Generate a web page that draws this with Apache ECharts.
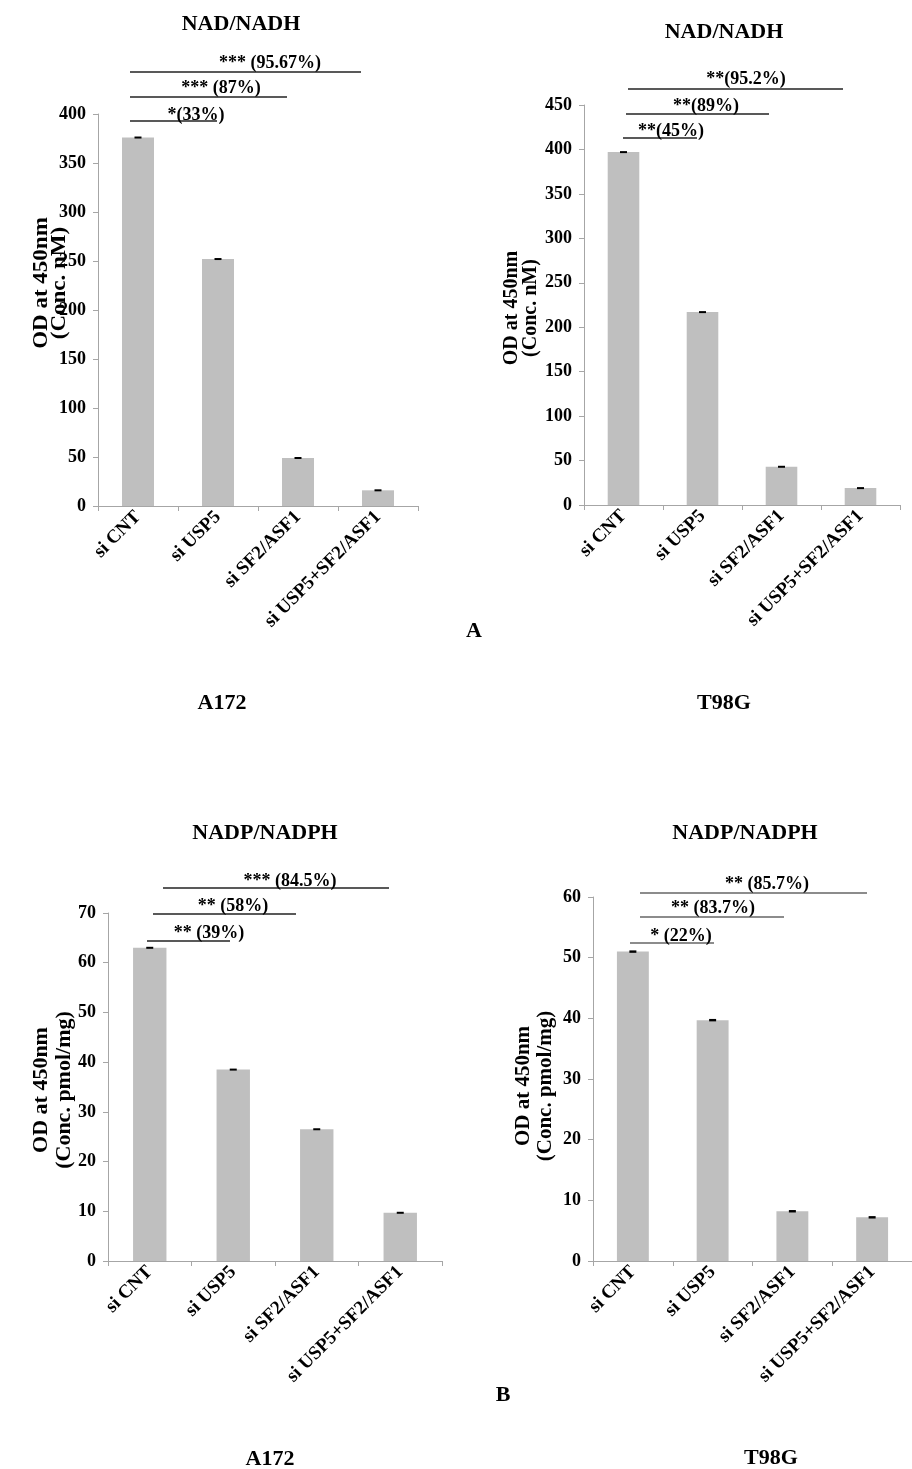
<!DOCTYPE html>
<html>
<head>
<meta charset="utf-8">
<script src="https://cdn.jsdelivr.net/npm/echarts@6/dist/echarts.min.js"></script>
<style>html,body{margin:0;padding:0;background:#fff}#c{width:912px;height:1469px}</style>
</head>
<body>
<div id="c"></div>
<script>
var categories = ['si CNT', 'si USP5', 'si SF2/ASF1', 'si USP5+SF2/ASF1'];
var nadA172 = [376, 252, 49, 16];
var nadA172Err = [1, 1, 1, 1];
var nadT98G = [397, 217, 43, 19];
var nadT98GErr = [1, 1, 1, 1];
var nadpA172 = [63, 38.5, 26.5, 9.7];
var nadpA172Err = [0.2, 0.2, 0.2, 0.2];
var nadpT98G = [51, 39.7, 8.2, 7.2];
var nadpT98GErr = [0.2, 0.2, 0.2, 0.2];
var yMax = [400, 450, 70, 60];
var yInterval = [50, 50, 10, 10];
var titles = ['NAD/NADH', 'NAD/NADH', 'NADP/NADPH', 'NADP/NADPH'];
var yNames = [['OD at 450nm', '(Conc. nM)'], ['OD at 450nm', '(Conc. nM)'], ['OD at 450nm', '(Conc. pmol/mg)'], ['OD at 450nm', '(Conc. pmol/mg)']];
var sigLabels = [
  ['*** (95.67%)', '*** (87%)', '*(33%)'],
  ['**(95.2%)', '**(89%)', '**(45%)'],
  ['*** (84.5%)', '** (58%)', '** (39%)'],
  ['** (85.7%)', '** (83.7%)', '* (22%)']
];
var panelLabels = ['A', 'B'];
var cellLines = ['A172', 'T98G', 'A172', 'T98G'];

var FONT = 'Liberation Serif';
var values = [nadA172, nadT98G, nadpA172, nadpT98G];
var errs = [nadA172Err, nadT98GErr, nadpA172Err, nadpT98GErr];

var grids = [
  {left: 98, top: 114, width: 320, height: 392},
  {left: 584, top: 105, width: 316, height: 400},
  {left: 108, top: 913, width: 334, height: 348},
  {left: 593, top: 897, width: 326, height: 364}
];

var axisColor = '#a6a6a6';
var option = {
  animation: false,
  backgroundColor: '#fff',
  grid: grids,
  xAxis: grids.map(function (g, i) {
    return {
      type: 'category', gridIndex: i, data: categories,
      axisLine: {lineStyle: {color: axisColor, width: 1}},
      axisTick: {show: true, length: 5, lineStyle: {color: axisColor}},
      axisLabel: {interval: 0, rotate: 45, margin: 8, color: '#000', fontFamily: FONT, fontWeight: 'bold', fontSize: 19}
    };
  }),
  yAxis: grids.map(function (g, i) {
    return {
      type: 'value', gridIndex: i, min: 0, max: yMax[i], interval: yInterval[i],
      axisLine: {show: true, lineStyle: {color: axisColor, width: 1}},
      axisTick: {show: true, length: 5, lineStyle: {color: axisColor}},
      splitLine: {show: false},
      axisLabel: {margin: 12, color: '#000', fontFamily: FONT, fontWeight: 'bold', fontSize: 18}
    };
  }),
  series: []
};

values.forEach(function (vals, i) {
  option.series.push({
    type: 'bar', xAxisIndex: i, yAxisIndex: i, data: vals,
    barWidth: '40%', itemStyle: {color: '#bfbfbf'}, silent: true
  });
  option.series.push({
    type: 'custom', xAxisIndex: i, yAxisIndex: i,
    data: vals.map(function (v, k) { return [k, v, errs[i][k]]; }),
    renderItem: function (params, api) {
      var x = api.value(0), v = api.value(1), e = api.value(2);
      var top = api.coord([x, v + e]);
      var bot = api.coord([x, v - e]);
      var h = Math.max(2, bot[1] - top[1]);
      return {type: 'rect', shape: {x: top[0] - 3.5, y: (top[1] + bot[1]) / 2 - h / 2, width: 7, height: h}, style: {fill: '#000'}};
    },
    z: 5, silent: true
  });
});

var g = [];
function txt(t, x, y, size, rot, sx) {
  g.push({type: 'text', x: x, y: y, rotation: rot || 0, scaleX: sx || 1, scaleY: 1,
    style: {text: t, fill: '#000', font: 'bold ' + size + 'px "' + FONT + '"', textAlign: 'center', textVerticalAlign: 'middle'}});
}
function line(x1, x2, y, col) {
  g.push({type: 'line', shape: {x1: x1, y1: y, x2: x2, y2: y}, style: {stroke: col || '#222', lineWidth: 1.5}});
}
var titlePos = [[241, 24], [724, 32], [265, 833], [745, 833]];
titles.forEach(function (t, i) { txt(t, titlePos[i][0], titlePos[i][1], 22); });

var yNamePos = [[42, 60, 283, 1.15], [512, 531, 308, 1.0], [42, 65, 1090, 1.1], [524, 546, 1086, 1.05]];
yNames.forEach(function (n, i) {
  var p = yNamePos[i];
  txt(n[0], p[0], p[2], 20, Math.PI / 2, p[3]);
  txt(n[1], p[1], p[2], 20, Math.PI / 2, p[3]);
});

var sigLines = [
  [[130, 361, 72], [130, 287, 97], [130, 217, 121]],
  [[628, 843, 89], [626, 769, 114], [623, 697, 138]],
  [[163, 389, 888], [153, 296, 914], [147, 230, 941]],
  [[640, 867, 893], [640, 784, 917], [630, 714, 943]]
];
var sigText = [
  [[270, 63], [221, 88], [196, 115]],
  [[746, 79], [706, 106], [671, 131]],
  [[290, 881], [233, 906], [209, 933]],
  [[767, 884], [713, 908], [681, 936]]
];
sigLines.forEach(function (set, i) {
  set.forEach(function (l, k) {
    line(l[0], l[1], l[2], i === 3 ? '#666' : '#222');
    txt(sigLabels[i][k], sigText[i][k][0], sigText[i][k][1], 18);
  });
});

txt(panelLabels[0], 474, 631, 22);
txt(panelLabels[1], 503, 1395, 22);
var cellPos = [[222, 703], [724, 703], [270, 1459], [771, 1458]];
cellLines.forEach(function (c, i) { txt(c, cellPos[i][0], cellPos[i][1], 22); });

option.graphic = g;

var chart = echarts.init(document.getElementById('c'), null, {renderer: 'canvas'});
chart.setOption(option);
</script>
</body>
</html>
